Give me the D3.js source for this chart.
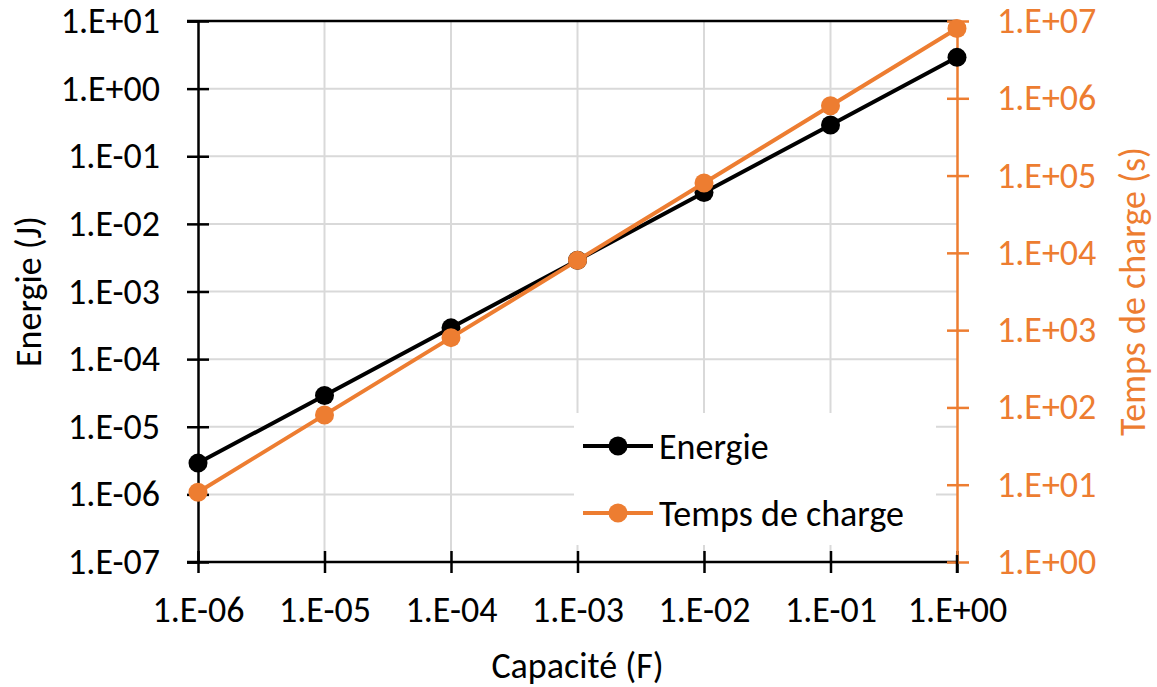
<!DOCTYPE html>
<html>
<head>
<meta charset="utf-8">
<script src="https://cdn.jsdelivr.net/npm/d3@7"></script>
<style>
  body { margin: 0; background: #fff; }
  text { font-family: Calibri, Carlito, "Open Sans", sans-serif; }
</style>
</head>
<body>
<svg id="chart"></svg>
<script>
// capacité (F)
const capacite = [1e-6, 1e-5, 1e-4, 1e-3, 1e-2, 1e-1, 1e0];
// energie (J)
const energie = [2.9e-6, 2.9e-5, 2.9e-4, 2.9e-3, 2.9e-2, 2.9e-1, 2.9e0];
// temps de charge (s)
const tempsCharge = [8e0, 8e1, 8e2, 8e3, 8e4, 8e5, 8e6];

const xTicks = [1e-6, 1e-5, 1e-4, 1e-3, 1e-2, 1e-1, 1e0];
const yLeftTicks = [1e-7, 1e-6, 1e-5, 1e-4, 1e-3, 1e-2, 1e-1, 1e0, 1e1];
const yRightTicks = [1e0, 1e1, 1e2, 1e3, 1e4, 1e5, 1e6, 1e7];

const seriesNames = ['Energie', 'Temps de charge'];
const colors = ['#000000', '#ED7D31'];

const W = 1157, H = 687;
const margin = { top: 21, right: 200, bottom: 125, left: 198 };
const width = W - margin.left - margin.right;
const height = H - margin.top - margin.bottom;
const fontSize = 36;

const svg = d3.select('#chart').attr('width', W).attr('height', H);
const g = svg.append('g').attr('transform', `translate(${margin.left},${margin.top})`);

const x = d3.scaleLog().domain([1e-6, 1e0]).range([0, width]);
const yL = d3.scaleLog().domain([1e-7, 1e1]).range([height, 0]);
const yR = d3.scaleLog().domain([1e0, 1e7]).range([height, 0]);

const fmt = d => {
  const e = Math.round(Math.log10(d));
  const s = e < 0 ? '-' : '+';
  return '1.E' + s + String(Math.abs(e)).padStart(2, '0');
};

// gridlines
g.append('g').selectAll('line').data(yLeftTicks.slice(1, -1)).join('line')
  .attr('x1', 0).attr('x2', width)
  .attr('y1', d => yL(d)).attr('y2', d => yL(d))
  .attr('stroke', '#d9d9d9').attr('stroke-width', 2);
g.append('g').selectAll('line').data(xTicks.slice(1, -1)).join('line')
  .attr('y1', 0).attr('y2', height)
  .attr('x1', d => x(d)).attr('x2', d => x(d))
  .attr('stroke', '#d9d9d9').attr('stroke-width', 2);

// top line
g.append('line').attr('x1', -11).attr('x2', width).attr('y1', 0).attr('y2', 0)
  .attr('stroke', '#000').attr('stroke-width', 2.5);

// left axis
const yAxisG = g.append('g').call(d3.axisLeft(yL).tickValues(yLeftTicks).tickFormat(fmt).tickSize(11).tickPadding(27));
yAxisG.select('.domain').attr('stroke-width', 2.5);
yAxisG.selectAll('.tick line').attr('x1', -11).attr('x2', 11).attr('stroke-width', 2.5);
yAxisG.selectAll('.tick text').attr('font-size', fontSize).attr('fill', '#000').attr('font-family', null);

// bottom axis
const xAxisG = g.append('g').attr('transform', `translate(0,${height})`)
  .call(d3.axisBottom(x).tickValues(xTicks).tickFormat(fmt).tickSize(11).tickSizeOuter(0).tickPadding(23));
xAxisG.select('.domain').attr('stroke-width', 2.5).attr('d', `M-11,0H${width}`);
xAxisG.selectAll('.tick line').attr('y1', -11).attr('y2', 11).attr('stroke-width', 2.5);
xAxisG.selectAll('.tick text').attr('font-size', fontSize).attr('fill', '#000').attr('font-family', null);

// right axis
const yRAxisG = g.append('g').attr('transform', `translate(${width},0)`)
  .call(d3.axisRight(yR).tickValues(yRightTicks).tickFormat(fmt).tickSize(12).tickSizeOuter(0).tickPadding(28));
yRAxisG.select('.domain').attr('stroke', colors[1]).attr('stroke-width', 2.5);
yRAxisG.selectAll('.tick line').attr('x1', -10).attr('x2', 12).attr('stroke', colors[1]).attr('stroke-width', 2.5);
yRAxisG.selectAll('.tick text').attr('font-size', fontSize).attr('fill', colors[1]).attr('font-family', null);
// keep the black x tick at the right end visible over the orange axis
g.append('line').attr('x1', width).attr('x2', width).attr('y1', height - 7).attr('y2', height + 11)
  .attr('stroke', '#000').attr('stroke-width', 2.5);

// axis titles
svg.append('text').attr('x', margin.left + width / 2).attr('y', 678)
  .attr('text-anchor', 'middle').attr('font-size', fontSize).text('Capacité (F)');
svg.append('text').attr('transform', `translate(41,${margin.top + height / 2}) rotate(-90)`)
  .attr('text-anchor', 'middle').attr('font-size', fontSize).text('Energie (J)');
svg.append('text').attr('transform', `translate(1145,${margin.top + height / 2}) rotate(-90)`)
  .attr('text-anchor', 'middle').attr('font-size', fontSize).attr('fill', colors[1]).text('Temps de charge (s)');

// legend box
const legend = g.append('g').attr('transform', `translate(${574 - margin.left},${413 - margin.top})`);
legend.append('rect').attr('width', 362).attr('height', 132).attr('fill', '#fff');

// series
const series = [
  { name: seriesNames[0], values: energie, y: yL, color: colors[0] },
  { name: seriesNames[1], values: tempsCharge, y: yR, color: colors[1] }
];
series.forEach(s => {
  const pts = capacite.map((c, i) => [c, s.values[i]]);
  g.append('path').datum(pts)
    .attr('fill', 'none').attr('stroke', s.color).attr('stroke-width', 4)
    .attr('d', d3.line().x(d => x(d[0])).y(d => s.y(d[1])));
  g.append('g').selectAll('circle').data(pts).join('circle')
    .attr('cx', d => x(d[0])).attr('cy', d => s.y(d[1])).attr('r', 9.5)
    .attr('fill', s.color);
});

// legend entries
series.forEach((s, i) => {
  const row = legend.append('g').attr('transform', `translate(0,${33 + i * 67})`);
  row.append('line').attr('x1', 9).attr('x2', 79).attr('stroke', s.color).attr('stroke-width', 4);
  row.append('circle').attr('cx', 44).attr('r', 9.5).attr('fill', s.color);
  row.append('text').attr('x', 85).attr('dy', '0.35em').attr('font-size', fontSize).text(s.name);
});
</script>
</body>
</html>
